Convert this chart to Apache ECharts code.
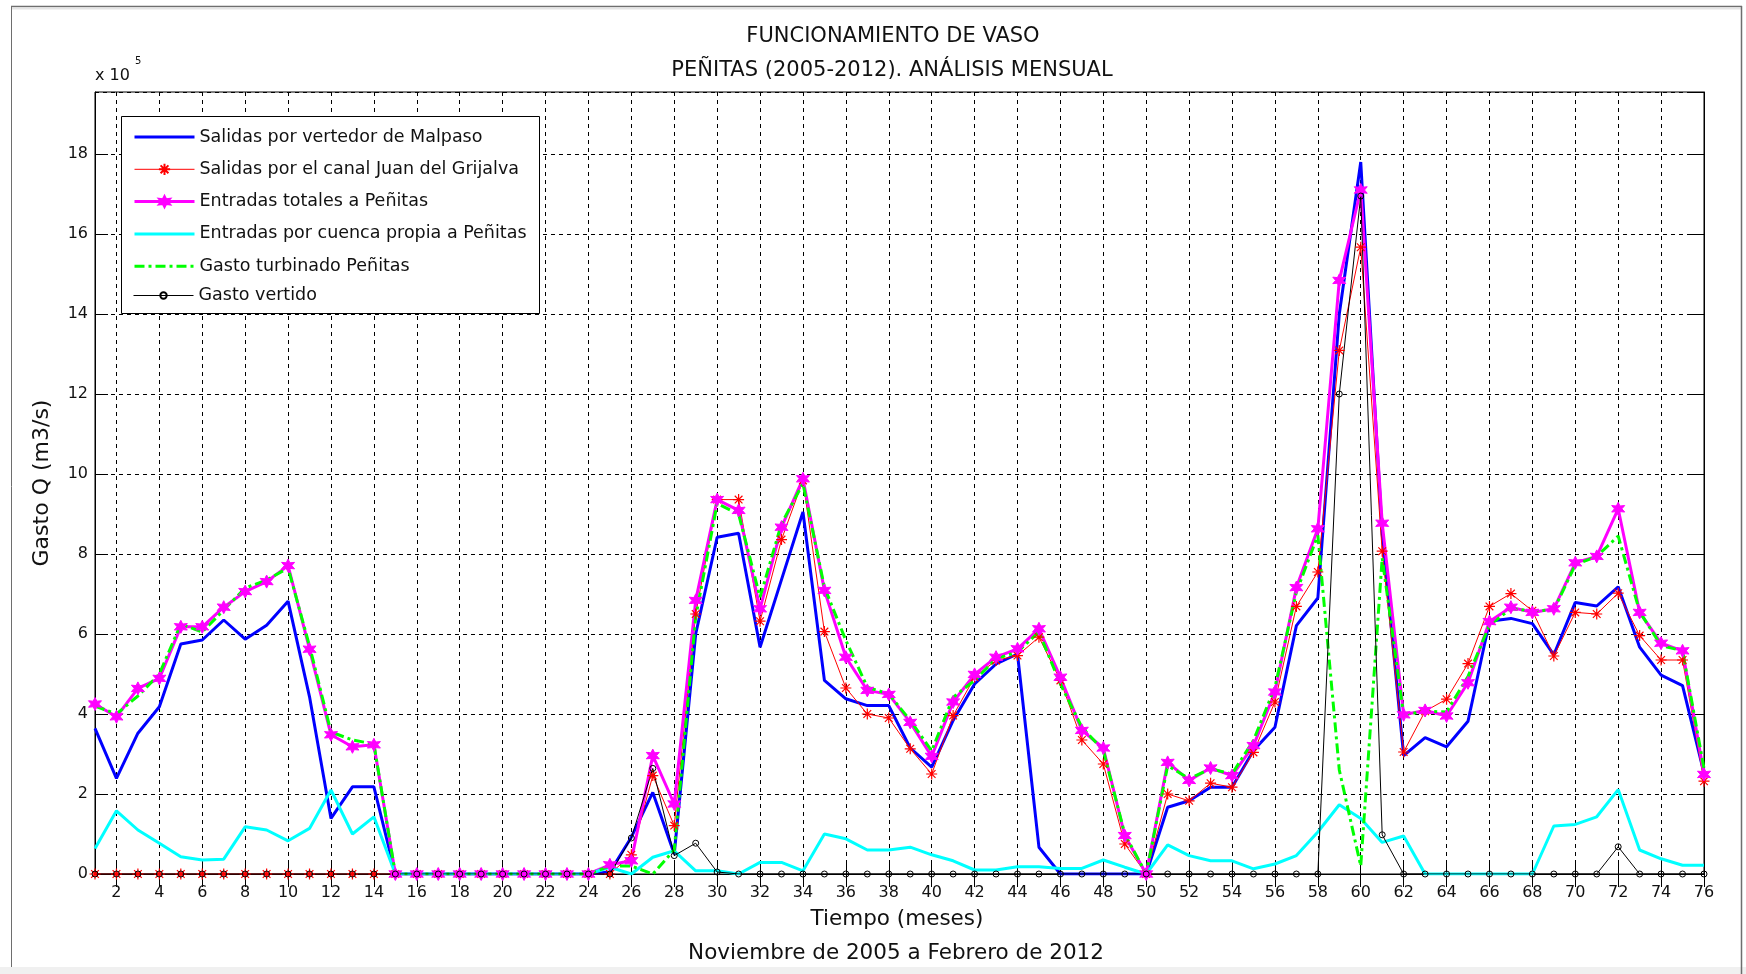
<!DOCTYPE html>
<html>
<head>
<meta charset="utf-8">
<title>Funcionamiento de vaso Peñitas</title>
<script src="https://cdn.jsdelivr.net/npm/echarts@6/dist/echarts.min.js"></script>
<style>
  html, body { margin: 0; padding: 0; background: #fff; }
  #chart { width: 1746px; height: 974px; }
</style>
</head>
<body>
<div id="chart"></div>
<script>
// meses 1..76 (nov 2005 - feb 2012)
const meses = ['1','2','3','4','5','6','7','8','9','10','11','12','13','14','15','16','17','18','19','20',
  '21','22','23','24','25','26','27','28','29','30','31','32','33','34','35','36','37','38','39','40',
  '41','42','43','44','45','46','47','48','49','50','51','52','53','54','55','56','57','58','59','60',
  '61','62','63','64','65','66','67','68','69','70','71','72','73','74','75','76']

// valores en x 10^5 m3/s
const vertedorMalpaso = [3.64,2.39,3.52,4.18,5.75,5.85,6.35,5.87,6.22,6.82,4.43,1.39,2.18,2.18,0,0,0,0,0,0,
  0,0,0,0,0.05,0.92,2.04,0.5,6.0,8.42,8.52,5.67,7.36,9.05,4.84,4.38,4.21,4.21,3.15,2.67,
  3.84,4.75,5.25,5.5,0.67,0,0,0,0,0,1.67,1.83,2.17,2.17,3.09,3.67,6.21,6.9,14.0,17.8,
  8.5,2.96,3.41,3.18,3.82,6.32,6.39,6.26,5.48,6.79,6.7,7.18,5.67,4.97,4.71,2.52]
const canalGrijalva = [0,0,0,0,0,0,0,0,0,0,0,0,0,0,0,0,0,0,0,0,
  0,0,0,0,0,0.48,2.46,1.21,6.5,9.36,9.36,6.32,8.36,9.84,6.06,4.65,4.0,3.9,3.13,2.5,
  3.96,4.92,5.34,5.46,5.92,4.84,3.35,2.75,0.75,0,2.0,1.83,2.27,2.17,3.04,4.3,6.69,7.55,13.09,15.67,
  8.07,3.05,4.07,4.37,5.26,6.69,7.01,6.58,5.45,6.54,6.5,7.02,5.96,5.35,5.35,2.32]
const entradasTotales = [4.25,3.93,4.64,4.89,6.18,6.18,6.67,7.06,7.31,7.71,5.62,3.48,3.18,3.23,0,0,0,0,0,0,
  0,0,0,0,0.23,0.33,2.96,1.75,6.84,9.36,9.09,6.63,8.67,9.88,7.09,5.42,4.59,4.49,3.79,2.94,
  4.3,4.99,5.42,5.63,6.13,4.92,3.59,3.15,0.96,0,2.79,2.34,2.65,2.46,3.21,4.55,7.16,8.63,14.84,17.1,
  8.77,3.98,4.09,3.95,4.78,6.31,6.67,6.54,6.63,7.78,7.94,9.13,6.54,5.77,5.58,2.49]
const cuencaPropia = [0.64,1.58,1.1,0.77,0.43,0.35,0.37,1.18,1.1,0.83,1.14,2.1,1.0,1.43,0,0,0,0,0,0,
  0,0,0,0,0.17,0,0.42,0.58,0.08,0.08,0,0.29,0.29,0.08,1.0,0.88,0.6,0.6,0.67,0.48,
  0.33,0.1,0.1,0.18,0.18,0.14,0.14,0.35,0.17,0,0.73,0.46,0.33,0.33,0.13,0.25,0.46,1.05,1.73,1.39,
  0.79,0.95,0,0,0,0,0,0,1.2,1.24,1.43,2.11,0.6,0.38,0.22,0.22]
const turbinado = [4.2,4.0,4.45,5.0,6.25,6.05,6.6,7.15,7.35,7.65,5.7,3.55,3.35,3.25,0,0,0,0,0,0,
  0,0,0,0,0.2,0.2,0,0.6,6.42,9.26,9.0,6.92,8.76,9.76,7.17,5.84,4.67,4.5,3.84,3.08,
  4.42,4.84,5.38,5.55,6.05,4.75,3.67,3.09,1.0,0,2.71,2.38,2.63,2.5,3.34,4.67,7.05,8.47,2.6,0.2,
  7.9,3.98,4.07,4.05,4.94,6.22,6.63,6.58,6.6,7.73,7.94,8.45,6.56,5.71,5.58,2.64]
const vertido = [0,0,0,0,0,0,0,0,0,0,0,0,0,0,0,0,0,0,0,0,
  0,0,0,0,0,0.9,2.64,0.46,0.77,0.05,0,0,0,0,0,0,0,0,0,0,
  0,0,0,0,0,0,0,0,0,0,0,0,0,0,0,0,0,0,12.0,16.95,
  0.98,0,0,0,0,0,0,0,0,0,0,0.68,0,0,0,0]

const yTicks = [0,2,4,6,8,10,12,14,16,18]

const FONT = 'DejaVu Sans'
const NADA = 'rgba(0,0,0,0)'
const estrella = 'path://M0 -1L0.25 -0.43L0.87 -0.5L0.5 0L0.87 0.5L0.25 0.43L0 1L-0.25 0.43L-0.87 0.5L-0.5 0L-0.87 -0.5L-0.25 -0.43Z'
const asterisco = 'path://M0 -1L0 1M-1 0L1 0M-0.7 -0.7L0.7 0.7M-0.7 0.7L0.7 -0.7'
const par = (i) => i % 2 === 1   // meses pares

const legendText = { fontFamily: FONT, fontSize: 17.5, color: '#111' }

const chart = echarts.init(document.getElementById('chart'))

const option = {
  animation: false,
  backgroundColor: '#fff',
  textStyle: { fontFamily: FONT },
  grid: {
    left: 95, right: 42, top: 92, bottom: 100,
    show: true, borderColor: '#000', borderWidth: 1, backgroundColor: '#fff'
  },
  legend: [
    {
      orient: 'vertical', left: 133, top: 128, padding: 0,
      itemWidth: 60, itemHeight: 14, itemGap: 14.3,
      lineStyle: { width: 'inherit' },
      textStyle: legendText,
      data: ['Salidas por vertedor de Malpaso', 'Salidas por el canal Juan del Grijalva',
        'Entradas totales a Peñitas', 'Entradas por cuenca propia a Peñitas',
        'Gasto turbinado Peñitas']
    },
    {
      // circulo chico para el gasto vertido
      orient: 'vertical', left: 133, top: 286.5, padding: 0,
      itemWidth: 60, itemHeight: 8,
      lineStyle: { width: 'inherit' },
      textStyle: legendText,
      data: ['Gasto vertido']
    }
  ],
  xAxis: [
    {
      type: 'category', data: meses, boundaryGap: false,
      axisLine: { lineStyle: { color: '#000', width: 1 } },
      axisTick: { inside: true, length: 13, interval: par, lineStyle: { color: '#000' } },
      axisLabel: { interval: par, margin: 11, fontSize: 16, color: '#111', fontFamily: FONT },
      splitLine: { show: true, interval: par, lineStyle: { color: '#000', type: [4, 4], width: 1 } }
    },
    {
      type: 'category', data: meses, boundaryGap: false, position: 'top',
      axisLine: { lineStyle: { color: '#000' } },
      axisTick: { inside: true, length: 13, interval: par, lineStyle: { color: '#000' } },
      axisLabel: { show: false },
      splitLine: { show: false }
    }
  ],
  yAxis: [
    {
      type: 'value', min: 0, max: 19.55, interval: 2,
      axisLine: { show: true, lineStyle: { color: '#000' } },
      axisTick: { show: true, inside: true, length: 13, lineStyle: { color: '#000' } },
      axisLabel: {
        showMaxLabel: false, margin: 7, fontSize: 16, color: '#111', fontFamily: FONT,
        formatter: (v) => yTicks.includes(v) ? String(v) : ''
      },
      splitLine: { show: true, lineStyle: { color: '#000', type: [4, 4], width: 1 } }
    },
    {
      type: 'value', min: 0, max: 19.55, interval: 2, position: 'right',
      axisLine: { show: true, lineStyle: { color: '#000' } },
      axisTick: { show: true, inside: true, length: 13, lineStyle: { color: '#000' } },
      axisLabel: { show: false },
      splitLine: { show: false }
    }
  ],
  series: [
    {
      name: 'Salidas por vertedor de Malpaso', type: 'line', data: vertedorMalpaso,
      symbol: 'circle', showSymbol: false,
      itemStyle: { color: NADA },
      lineStyle: { color: '#0000ff', width: 3 }
    },
    {
      name: 'Salidas por el canal Juan del Grijalva', type: 'line', data: canalGrijalva,
      symbol: asterisco, symbolSize: 11,
      itemStyle: { color: '#ff0000', borderColor: '#ff0000', borderWidth: 1.2 },
      lineStyle: { color: '#ff0000', width: 1 }
    },
    {
      name: 'Entradas totales a Peñitas', type: 'line', data: entradasTotales,
      symbol: estrella, symbolSize: 13,
      itemStyle: { color: '#ff00ff', borderColor: '#ff00ff', borderWidth: 1 },
      lineStyle: { color: '#ff00ff', width: 3 }
    },
    {
      name: 'Entradas por cuenca propia a Peñitas', type: 'line', data: cuencaPropia,
      symbol: 'circle', showSymbol: false,
      itemStyle: { color: NADA },
      lineStyle: { color: '#00ffff', width: 3 }
    },
    {
      name: 'Gasto turbinado Peñitas', type: 'line', data: turbinado,
      symbol: 'circle', showSymbol: false,
      itemStyle: { color: NADA },
      lineStyle: { color: '#00ff00', width: 3, type: [10, 4, 3, 4] }
    },
    {
      name: 'Gasto vertido', type: 'line', data: vertido,
      symbol: 'circle', symbolSize: 6,
      itemStyle: { color: NADA, borderColor: '#000', borderWidth: 1 },
      lineStyle: { color: '#000', width: 1 }
    }
  ],
  graphic: [
    // marco de la ventana
    { type: 'rect', shape: { x: 0, y: 967, width: 1746, height: 7 }, style: { fill: '#f0f0f0' }, silent: true },
    { type: 'line', shape: { x1: 11, y1: 6.5, x2: 1742, y2: 6.5 }, style: { stroke: '#6e6e6e', lineWidth: 1.5 }, silent: true },
    { type: 'line', shape: { x1: 12, y1: 8.5, x2: 1741, y2: 8.5 }, style: { stroke: '#e4e4e4', lineWidth: 2 }, silent: true },
    { type: 'line', shape: { x1: 11.5, y1: 6, x2: 11.5, y2: 967 }, style: { stroke: '#6e6e6e', lineWidth: 1 }, silent: true },
    { type: 'line', shape: { x1: 1741.5, y1: 6, x2: 1741.5, y2: 974 }, style: { stroke: '#6e6e6e', lineWidth: 1.5 }, silent: true },
    // caja de la leyenda
    { type: 'rect', z: 3, shape: { x: 121.5, y: 116.5, width: 418, height: 197 },
      style: { fill: '#fff', stroke: '#000', lineWidth: 1 }, silent: true },
    // titulos
    { type: 'text', x: 893, y: 37, style: { text: 'FUNCIONAMIENTO DE VASO', font: '21px "DejaVu Sans"', fill: '#111', textAlign: 'center', textVerticalAlign: 'middle' } },
    { type: 'text', x: 892, y: 70.5, style: { text: 'PEÑITAS (2005-2012). ANÁLISIS MENSUAL', font: '21px "DejaVu Sans"', fill: '#111', textAlign: 'center', textVerticalAlign: 'middle' } },
    { type: 'text', x: 897, y: 919, style: { text: 'Tiempo (meses)', font: '21.5px "DejaVu Sans"', fill: '#111', textAlign: 'center', textVerticalAlign: 'middle' } },
    { type: 'text', x: 896, y: 953, style: { text: 'Noviembre de 2005 a Febrero de 2012', font: '21.5px "DejaVu Sans"', fill: '#111', textAlign: 'center', textVerticalAlign: 'middle' } },
    { type: 'text', x: 42, y: 483, rotation: Math.PI / 2, style: { text: 'Gasto Q (m3/s)', font: '22px "DejaVu Sans"', fill: '#111', textAlign: 'center', textVerticalAlign: 'middle' } },
    // factor de escala del eje y
    { type: 'text', x: 95, y: 76, style: { text: 'x 10', font: '16px "DejaVu Sans"', fill: '#111', textAlign: 'left', textVerticalAlign: 'middle' } },
    { type: 'text', x: 135, y: 61, style: { text: '5', font: '10px "DejaVu Sans"', fill: '#111', textAlign: 'left', textVerticalAlign: 'middle' } }
  ]
}

chart.setOption(option)
</script>
</body>
</html>
